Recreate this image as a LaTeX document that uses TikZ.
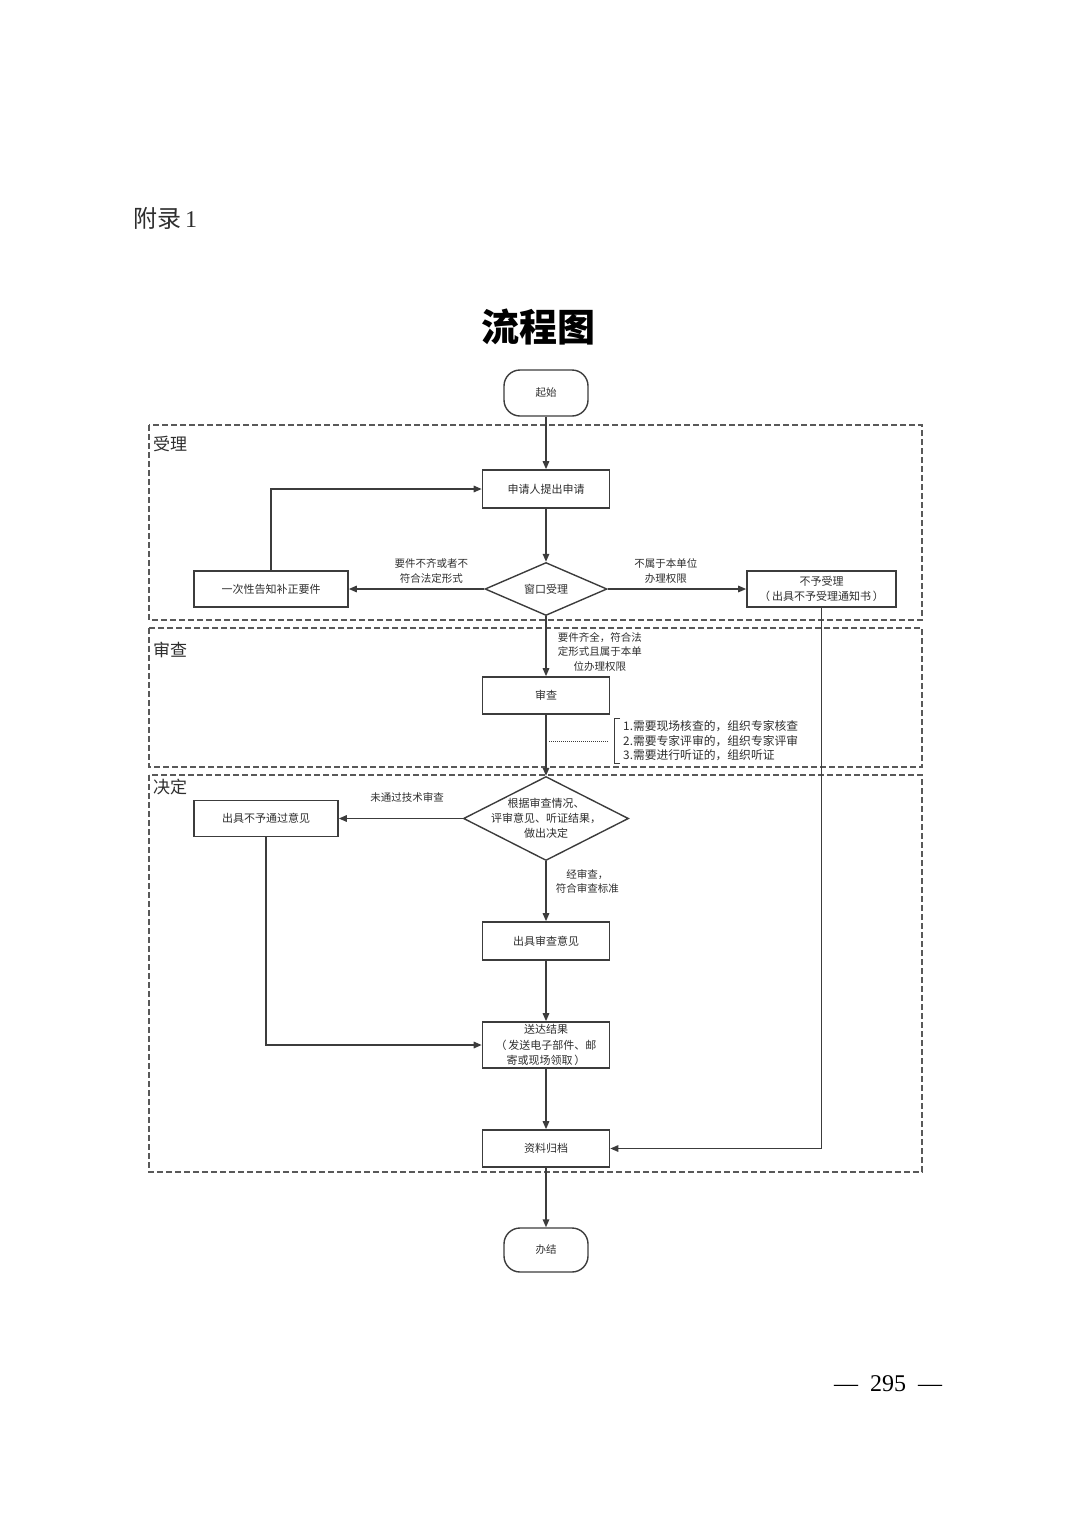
\documentclass[tikz,border=0pt]{standalone}
\usepackage{fontspec}
\setmainfont{Liberation Serif}
\newfontfamily\cjk{Noto Sans CJK SC}
\usetikzlibrary{shapes.geometric,positioning,arrows.meta}
\definecolor{edgegray}{HTML}{3C3C3C}
\definecolor{inkgray}{HTML}{2E2E2E}

\begin{document}
\begin{tikzpicture}[
    x=1pt, y=-1pt,
    every node/.style={text=inkgray},
    terminal/.style={
        draw=edgegray,
        line width=1.4pt,
        rounded corners=16pt,
        minimum width=84pt,
        minimum height=46pt,
        inner sep=0pt,
        font=\cjk\fontsize{10.5}{13}\selectfont
    },
    process/.style={
        rectangle,
        draw=edgegray,
        line width=1.6pt,
        minimum width=127pt,
        minimum height=38pt,
        inner sep=1pt,
        align=center,
        font=\cjk\fontsize{11}{15.5}\selectfont
    },
    decision/.style={
        diamond,
        draw=edgegray,
        line width=1.4pt,
        inner sep=0pt
    },
    lane/.style={
        draw=edgegray!85,
        line width=1.2pt,
        dash pattern=on 6pt off 3pt
    },
    lanelabel/.style={
        anchor=west,
        inner sep=0pt,
        font=\cjk\fontsize{17}{19}\selectfont
    },
    note/.style={
        align=center,
        inner sep=1pt,
        font=\cjk\fontsize{10.5}{14.5}\selectfont
    },
    arrow/.style={
        ->,
        >={Triangle[length=8pt,width=6.5pt]},
        line width=1.5pt,
        draw=edgegray
    }
]
\useasboundingbox (0,0) rectangle (1074,1520);

% 页眉、标题、页码
\node[anchor=west, inner sep=0pt, font=\cjk\fontsize{24}{26}\selectfont] (appendix) at (133,218) {附录\,{\rmfamily 1}};
\node[font=\cjk\bfseries\fontsize{38}{40}\selectfont, text=black] (title) at (538,327) {流程图};
\node[font=\rmfamily\fontsize{24}{26}\selectfont, text=black] (pageno) at (888,1384) {—\ \ 295\ \ —};

% 分区
\draw[lane] (149,425) rectangle (922,620);
\node[lanelabel] (lane1) at (153,444) {受理};
\draw[lane] (149,628) rectangle (922,767);
\node[lanelabel] (lane2) at (153,650) {审查};
\draw[lane] (149,775) rectangle (922,1172);
\node[lanelabel] (lane3) at (153,787) {决定};

% 节点
\node[terminal] (start) at (546,393) {起始};
\node[process] (apply) at (546,489) {申请人提出申请};
\node[decision, minimum width=122pt, minimum height=53pt,
      label={[note, font=\cjk\fontsize{11}{13}\selectfont]center:窗口受理}] (window) at (546,589) {};
\node[process, minimum width=154pt, minimum height=36pt] (notify) at (271,589) {一次性告知补正要件};
\node[process, minimum width=149pt, minimum height=36pt] (reject) at (821.5,589) {不予受理\\（\,出具不予受理通知书\,）};
\node[process, minimum height=37pt] (review) at (546,695.5) {审查};
\node[decision, minimum width=165pt, minimum height=84pt,
      label={[note, font=\cjk\fontsize{11}{15}\selectfont]center:{根据审查情况、\\评审意见、听证结果，\\做出决定}}] (decide) at (546,818.5) {};
\node[process, minimum width=144pt, minimum height=36pt] (deny) at (266,818.5) {出具不予通过意见};
\node[process] (opinion) at (546,941) {出具审查意见};
\node[process, minimum height=46pt] (deliver) at (546,1045) {送达结果\\（\,发送电子部件、邮\\寄或现场领取\,）};
\node[process, minimum height=37pt] (archive) at (546,1148.5) {资料归档};
\node[terminal, minimum height=44pt] (finish) at (546,1250) {办结};

% 审查要点
\node[anchor=west, align=left, inner xsep=0pt, inner ysep=2pt,
      font=\cjk\fontsize{11.8}{14.5}\selectfont] (tasks) at (623,741)
      {1.需要现场核查的，组织专家核查\\2.需要专家评审的，组织专家评审\\3.需要进行听证的，组织听证};
\draw[edgegray, line width=1pt] ([xshift=-3pt]tasks.north west) -- ([xshift=-9pt]tasks.north west)
    -- ([xshift=-9pt]tasks.south west) -- ([xshift=-3pt]tasks.south west);
\draw[edgegray, line width=1pt, densely dotted] ([xshift=3pt]review.south |- tasks.west) -- ([xshift=-14pt]tasks.west);

% 箭头
\draw[arrow] (start) -- (apply);
\draw[arrow] (apply) -- (window);
\draw[arrow] (window) -- (notify) node[note, above=4pt, pos=0.39] {要件不齐或者不\\符合法定形式};
\draw[arrow] (window) -- (reject) node[note, above=4pt, pos=0.42] {不属于本单位\\办理权限};
\draw[arrow] (notify.north) |- (apply.west);
\draw[arrow] (window) -- (review) node[note, right=10pt, pos=0.59] {要件齐全，符合法\\定形式且属于本单\\位办理权限};
\draw[arrow] (review) -- (decide);
\draw[arrow] (decide) -- (deny) node[note, above=14pt, pos=0.45] {未通过技术审查};
\draw[arrow] (decide) -- (opinion) node[note, right=8pt, pos=0.34] {经审查，\\符合审查标准};
\draw[arrow] (opinion) -- (deliver);
\draw[arrow] (deny.south) |- (deliver.west);
\draw[arrow] (deliver) -- (archive);
\draw[arrow] (reject.south) |- (archive.east);
\draw[arrow] (archive) -- (finish);

\end{tikzpicture}
\end{document}
